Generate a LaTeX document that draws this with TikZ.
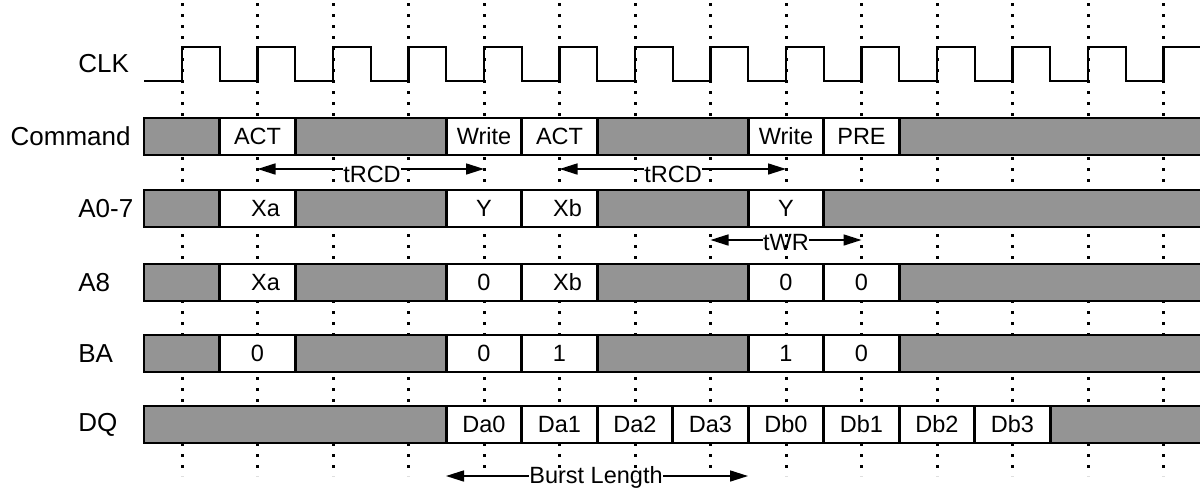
\documentclass[tikz,border=0pt]{standalone}
\usepackage{fontspec}
\setmainfont{Liberation Sans}
\usetikzlibrary{arrows.meta}
\tikzset{
 siglabel/.style={font=\fontsize{13}{15}\selectfont, inner sep=0pt},
 busbg/.style={draw=black, line width=1.3pt, fill=black!42},
 cell/.style={draw=black, line width=1.3pt, fill=white, minimum width=37.75pt, minimum height=18.5pt, inner sep=0pt, font=\fontsize{11.75}{13}\selectfont},
 clkgrid/.style={line width=1.5pt, dash pattern=on 1.5pt off 4pt},
 clkwave/.style={line width=1.2pt},
 dimarrow/.style={line width=0.8pt, -{Triangle[length=9pt,width=5.5pt]}},
 dimlbl/.style={font=\fontsize{11.75}{13}\selectfont, inner sep=0pt, anchor=base},
}
\begin{document}
\begin{tikzpicture}[x=0.5pt,y=-0.5pt]
\useasboundingbox (0,0) rectangle (1200,488);
\clip (0,0) rectangle (1200,488);
% clock edge grid lines
\foreach \k in {0,...,13} \draw[clkgrid] ({182+75.5*\k},3) -- ({182+75.5*\k},476);
% clock
\draw[clkwave] (144,81) \foreach \k in {0,...,12} { -- ({182+75.5*\k},81) -- ({182+75.5*\k},46.7) -- ({219.75+75.5*\k},46.7) -- ({219.75+75.5*\k},81) } -- (1163.5,81) -- (1163.5,46.7) -- (1215,46.7);
% bus backgrounds
\foreach \yt in {118,190,264,335,406} \draw[busbg] (144,\yt) rectangle (1220,{\yt+37});
% labels
\node[siglabel, anchor=west] (lclk) at (78,64) {CLK};
\node[siglabel, anchor=east] (lcmd) at (131,136.5) {Command};
\node[siglabel, anchor=west] (laddr) at (78,208.5) {A0-7};
\node[siglabel, anchor=west] (la8) at (78,282.5) {A8};
\node[siglabel, anchor=west] (lba) at (78,353.5) {BA};
\node[siglabel, anchor=west] (ldq) at (78,424.5) {DQ};
% Command
\node[cell] (c1) at (257.5,136.5) {ACT};
\node[cell] (c4) at (484,136.5) {Write};
\node[cell] (c5) at (559.5,136.5) {ACT};
\node[cell] (c8) at (786,136.5) {Write};
\node[cell] (c9) at (861.5,136.5) {PRE};
% A0-7
\node[cell] (a1) at (257.5,208.5) {\hspace*{8pt}Xa};
\node[cell] (a4) at (484,208.5) {Y};
\node[cell] (a5) at (559.5,208.5) {\hspace*{8pt}Xb};
\node[cell] (a8) at (786,208.5) {Y};
% A8
\node[cell] (b1) at (257.5,282.5) {\hspace*{8pt}Xa};
\node[cell] (b4) at (484,282.5) {0};
\node[cell] (b5) at (559.5,282.5) {\hspace*{8pt}Xb};
\node[cell] (b8) at (786,282.5) {0};
\node[cell] (b9) at (861.5,282.5) {0};
% BA
\node[cell] (k1) at (257.5,353.5) {0};
\node[cell] (k4) at (484,353.5) {0};
\node[cell] (k5) at (559.5,353.5) {1};
\node[cell] (k8) at (786,353.5) {1};
\node[cell] (k9) at (861.5,353.5) {0};
% DQ
\node[cell] (d4) at (484,424.5) {Da0};
\node[cell] (d5) at (559.5,424.5) {Da1};
\node[cell] (d6) at (635,424.5) {Da2};
\node[cell] (d7) at (710.5,424.5) {Da3};
\node[cell] (d8) at (786,424.5) {Db0};
\node[cell] (d9) at (861.5,424.5) {Db1};
\node[cell] (d10) at (937,424.5) {Db2};
\node[cell] (d11) at (1012.5,424.5) {Db3};
% timing annotations
\coordinate (r1l) at (257.5,169);
\coordinate (r1r) at (484,169);
\node[dimlbl] (trcd1) at (372,182) {tRCD};
\draw[dimarrow] (trcd1.west |- r1l) -- (r1l);
\draw[dimarrow] (trcd1.east |- r1r) -- (r1r);
\coordinate (r2l) at (559.5,169);
\coordinate (r2r) at (786,169);
\node[dimlbl] (trcd2) at (673,182) {tRCD};
\draw[dimarrow] (trcd2.west |- r2l) -- (r2l);
\draw[dimarrow] (trcd2.east |- r2r) -- (r2r);
\coordinate (wl) at (710.5,240);
\coordinate (wr) at (861.5,240);
\node[dimlbl] (twr) at (786,250.5) {tWR};
\draw[dimarrow] (twr.west |- wl) -- (wl);
\draw[dimarrow] (twr.east |- wr) -- (wr);
\coordinate (bl) at (446,476);
\coordinate (br) at (748,476);
\node[dimlbl] (burst) at (596,483.5) {Burst Length};
\draw[dimarrow] (burst.west |- bl) -- (bl);
\draw[dimarrow] (burst.east |- br) -- (br);
\end{tikzpicture}
\end{document}
